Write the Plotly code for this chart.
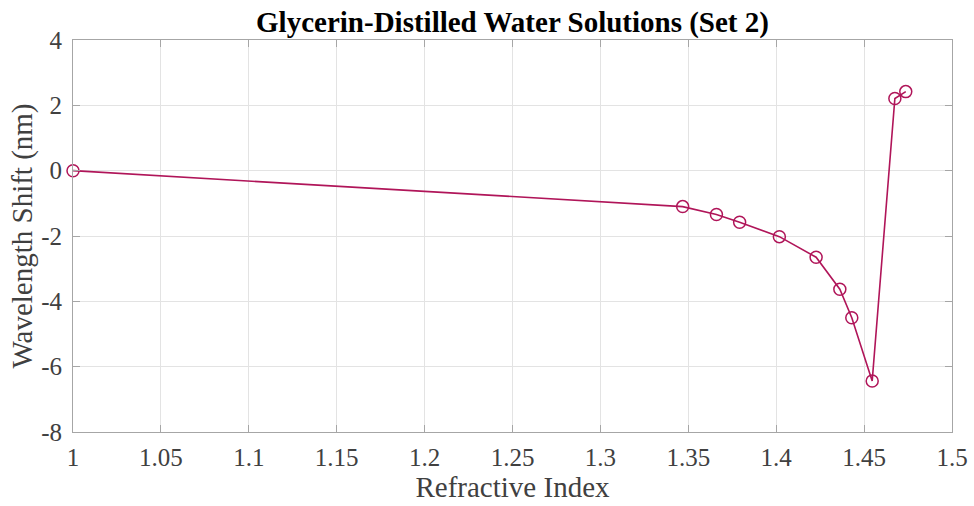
import plotly.graph_objects as go

# Refractive index of each glycerin / distilled-water solution and measured shift
refractive_index = [1.0, 1.3468, 1.366, 1.3792, 1.4018, 1.4227, 1.4362, 1.4430, 1.4546, 1.4675, 1.4737]
wavelength_shift = [0.0, -1.10, -1.34, -1.58, -2.02, -2.65, -3.63, -4.50, -6.44, 2.21, 2.42]

x_ticks = [1.0, 1.05, 1.1, 1.15, 1.2, 1.25, 1.3, 1.35, 1.4, 1.45, 1.5]
x_tick_text = ["1", "1.05", "1.1", "1.15", "1.2", "1.25", "1.3", "1.35", "1.4", "1.45", "1.5"]
y_ticks = [-8, -6, -4, -2, 0, 2, 4]
y_tick_text = ["-8", "-6", "-4", "-2", "0", "2", "4"]

line_color = "#b01559"
font_family = "Liberation Serif, Times New Roman, serif"
text_gray = "#404040"

fig = go.Figure(
    go.Scatter(
        x=refractive_index,
        y=wavelength_shift,
        mode="lines+markers",
        line=dict(color=line_color, width=1.6),
        marker=dict(symbol="circle-open", size=12, color=line_color, line=dict(width=1.5, color=line_color)),
        cliponaxis=False,
        showlegend=False,
    )
)

axis_common = dict(
    automargin=False,
    showline=True,
    linecolor="#a6a6a6",
    linewidth=1,
    mirror="ticks",
    ticks="inside",
    ticklen=7,
    tickcolor="#a6a6a6",
    showgrid=True,
    gridcolor="#e3e3e3",
    gridwidth=1,
    zeroline=False,
    tickfont=dict(family=font_family, size=25, color=text_gray),
)

fig.update_layout(
    width=974,
    height=506,
    margin=dict(l=73, r=22, t=40, b=74),
    paper_bgcolor="white",
    plot_bgcolor="white",
    title=dict(
        text="<b>Glycerin-Distilled Water Solutions (Set 2)</b>",
        xref="paper",
        x=0.5,
        xanchor="center",
        yref="container",
        y=1 - 22 / 506,
        yanchor="middle",
        font=dict(family=font_family, size=29, color="black"),
    ),
    xaxis=dict(
        range=[1.0, 1.5],
        tickvals=x_ticks,
        ticktext=x_tick_text,
        ticklabelstandoff=3,
        title=dict(text="Refractive Index", font=dict(family=font_family, size=29, color=text_gray), standoff=2),
        **axis_common,
    ),
    yaxis=dict(
        range=[-8, 4],
        tickvals=y_ticks,
        ticktext=y_tick_text,
        ticklabelstandoff=5,
        title=dict(text="Wavelength Shift (nm)", font=dict(family=font_family, size=29, color=text_gray), standoff=0),
        **axis_common,
    ),
)

fig.write_html("out.html")
